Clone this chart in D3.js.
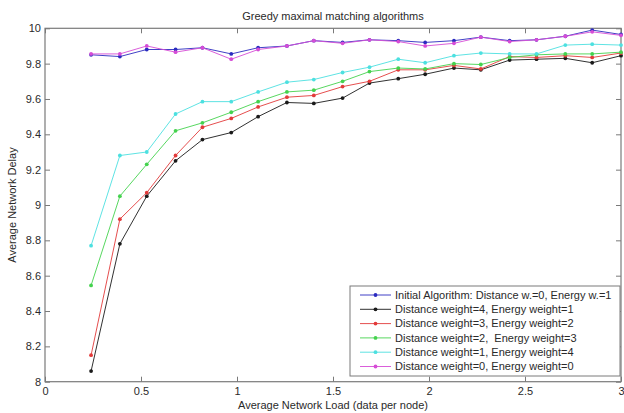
<!DOCTYPE html>
<html>
<head>
<meta charset="utf-8">
<script src="https://cdn.jsdelivr.net/npm/d3@7/dist/d3.min.js"></script>
<style>
  html, body { margin: 0; padding: 0; background: #fff; }
  svg { display: block; font-family: "Liberation Sans", Arial, sans-serif; }
</style>
</head>
<body>
<svg id="chart" width="624" height="413"></svg>
<script>
// Average network load (data per node) at each simulation step
const loads = [0.24, 0.39, 0.53, 0.68, 0.82, 0.97, 1.11, 1.26, 1.40, 1.55,
               1.69, 1.84, 1.98, 2.13, 2.27, 2.42, 2.56, 2.71, 2.85, 3.00];

// Average network delay for each weighting scheme
const initialAlg = [9.85, 9.84, 9.88, 9.88, 9.89, 9.855, 9.89, 9.90, 9.93, 9.92,
                    9.935, 9.93, 9.92, 9.93, 9.95, 9.93, 9.935, 9.955, 9.99, 9.965];
const dist4en1 = [8.06, 8.78, 9.05, 9.25, 9.37, 9.41, 9.50, 9.58, 9.575, 9.605,
                  9.69, 9.715, 9.74, 9.775, 9.765, 9.82, 9.825, 9.83, 9.805, 9.845];
const dist3en2 = [8.15, 8.92, 9.07, 9.28, 9.44, 9.49, 9.555, 9.61, 9.62, 9.67,
                  9.70, 9.765, 9.765, 9.79, 9.77, 9.84, 9.835, 9.845, 9.835, 9.86];
const dist2en3 = [8.545, 9.05, 9.23, 9.42, 9.465, 9.525, 9.585, 9.64, 9.65, 9.70,
                  9.755, 9.775, 9.77, 9.80, 9.795, 9.835, 9.85, 9.855, 9.855, 9.865];
const dist1en4 = [8.77, 9.28, 9.30, 9.515, 9.585, 9.585, 9.64, 9.695, 9.71, 9.75,
                  9.78, 9.825, 9.805, 9.845, 9.86, 9.855, 9.855, 9.905, 9.91, 9.905];
const dist0en0 = [9.855, 9.855, 9.90, 9.865, 9.89, 9.825, 9.88, 9.90, 9.93, 9.915,
                  9.935, 9.925, 9.90, 9.915, 9.95, 9.925, 9.935, 9.955, 9.98, 9.96];

const seriesNames = [
  "Initial Algorithm: Distance w.=0, Energy w.=1",
  "Distance weight=4, Energy weight=1",
  "Distance weight=3, Energy weight=2",
  "Distance weight=2,  Energy weight=3",
  "Distance weight=1, Energy weight=4",
  "Distance weight=0, Energy weight=0"
];
const seriesValues = [initialAlg, dist4en1, dist3en2, dist2en3, dist1en4, dist0en0];
const seriesColors = ["#2b2bc0", "#1a1a1a", "#e23a3a", "#44d24e", "#4ce0e0", "#d64cd6"];

const xTicks = [0, 0.5, 1, 1.5, 2, 2.5, 3];
const yTicks = [8, 8.2, 8.4, 8.6, 8.8, 9, 9.2, 9.4, 9.6, 9.8, 10];

const titleText = "Greedy maximal matching algorithms";
const xTitle = "Average Network Load (data per node)";
const yTitle = "Average Network Delay";

const svg = d3.select("#chart");
const margin = { left: 45, right: 3, top: 28.3, bottom: 31.3 };
const W = 624, H = 413;
const x = d3.scaleLinear().domain([0, 3]).range([margin.left, W - margin.right]);
const y = d3.scaleLinear().domain([8, 10]).range([H - margin.bottom, margin.top]);

const axisColor = "#7a7a7a";
const textColor = "#2a2a2a";

// Axes: ticks point into the plot on all four sides
const fmt = d => String(d);
const tickLen = 5;
svg.append("g").attr("transform", `translate(0,${y(8)})`)
  .call(d3.axisBottom(x).tickValues(xTicks).tickFormat(fmt).tickSizeInner(-tickLen).tickSizeOuter(0).tickPadding(6))
  .call(g => g.selectAll("text").attr("fill", textColor).attr("font-size", 11).attr("font-family", "Liberation Sans, Arial, sans-serif"));
svg.append("g").attr("transform", `translate(0,${y(10)})`)
  .call(d3.axisTop(x).tickValues(xTicks).tickFormat("").tickSizeInner(-tickLen).tickSizeOuter(0));
svg.append("g").attr("transform", `translate(${x(0)},0)`)
  .call(d3.axisLeft(y).tickValues(yTicks).tickFormat(fmt).tickSizeInner(-tickLen).tickSizeOuter(0).tickPadding(4))
  .call(g => g.selectAll("text").attr("fill", textColor).attr("font-size", 11).attr("font-family", "Liberation Sans, Arial, sans-serif"));
svg.append("g").attr("transform", `translate(${x(3)},0)`)
  .call(d3.axisRight(y).tickValues(yTicks).tickFormat("").tickSizeInner(-tickLen).tickSizeOuter(0));
svg.selectAll(".domain").remove();
svg.selectAll(".tick line").attr("stroke", axisColor);

// Plot frame
svg.append("rect")
  .attr("x", x(0)).attr("y", y(10))
  .attr("width", x(3) - x(0)).attr("height", y(8) - y(10))
  .attr("fill", "none").attr("stroke", axisColor).attr("stroke-width", 1.2);

// Series lines with dot markers
const line = d3.line().x((d, i) => x(loads[i])).y(d => y(d));
seriesValues.forEach((vals, k) => {
  const g = svg.append("g");
  g.append("path").datum(vals)
    .attr("d", line).attr("fill", "none")
    .attr("stroke", seriesColors[k]).attr("stroke-width", 0.9);
  g.selectAll("circle").data(vals).join("circle")
    .attr("cx", (d, i) => x(loads[i])).attr("cy", d => y(d))
    .attr("r", 1.9).attr("fill", seriesColors[k]);
});

// Titles
svg.append("text").attr("x", (x(0) + x(3)) / 2).attr("y", 20)
  .attr("text-anchor", "middle").attr("font-size", 11).attr("fill", textColor).text(titleText);
svg.append("text").attr("x", (x(0) + x(3)) / 2).attr("y", 409)
  .attr("text-anchor", "middle").attr("font-size", 11).attr("fill", textColor).text(xTitle);
svg.append("text")
  .attr("transform", `translate(16,${(y(8) + y(10)) / 2}) rotate(-90)`)
  .attr("text-anchor", "middle").attr("font-size", 11).attr("fill", textColor).text(yTitle);

// Legend
const lg = svg.append("g");
const lgX = 350, lgY = 286, lgW = 270, lgH = 90, rowH = 14.3;
lg.append("rect").attr("x", lgX).attr("y", lgY).attr("width", lgW).attr("height", lgH)
  .attr("fill", "#fff").attr("stroke", axisColor).attr("stroke-width", 1);
seriesNames.forEach((name, k) => {
  const ry = lgY + 9 + k * rowH;
  lg.append("line").attr("x1", lgX + 10).attr("x2", lgX + 41).attr("y1", ry).attr("y2", ry)
    .attr("stroke", seriesColors[k]).attr("stroke-width", 0.9);
  lg.append("circle").attr("cx", lgX + 25.5).attr("cy", ry).attr("r", 1.9).attr("fill", seriesColors[k]);
  lg.append("text").attr("x", lgX + 45).attr("y", ry + 3.8)
    .attr("font-size", 11).attr("fill", textColor)
    .style("white-space", "pre").text(name);
});
</script>
</body>
</html>
